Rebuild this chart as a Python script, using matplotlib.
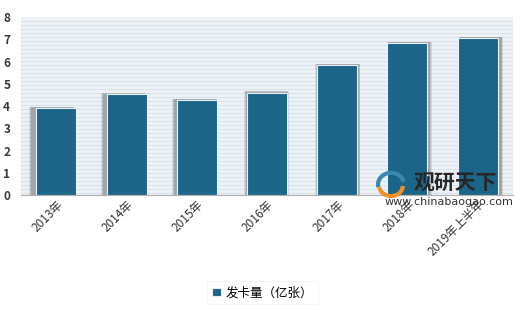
import matplotlib
matplotlib.use("Agg")
import matplotlib.pyplot as plt
import numpy as np
from matplotlib.patches import Rectangle, Arc

plt.rcParams['font.family'] = ['Noto Sans CJK SC', 'DejaVu Sans']

# Data
categories = ['2013年', '2014年', '2015年', '2016年', '2017年', '2018年', '2019年上半年']
card_issuance = [3.9, 4.52, 4.27, 4.6, 5.84, 6.82, 7.04]
series_name = '发卡量（亿张）'

bar_color = '#1b6688'
bg_color = '#eef2f6'
stripe_color = '#dbe3ea'

fig = plt.figure(figsize=(5.2, 3.1), dpi=100)
ax = fig.add_axes([0.041, 0.371, 0.945, 0.574])
ax.set_facecolor(bg_color)

# Striped background
for yy in np.arange(0.09, 8.0, 0.18):
    ax.axhline(yy, color=stripe_color, lw=0.8, zorder=0)

x = np.arange(len(categories))
width = 0.57

# Soft shadow behind each bar, pushed outward from the middle
for i, v in enumerate(card_issuance):
    off = (i - 3.5) * 0.018
    for k, a in enumerate([0.18, 0.25, 0.32]):
        grow = 0.012 * (3 - k)
        ax.add_patch(Rectangle((x[i] - width / 2 + off - grow, 0), width + 2 * grow,
                               v + 0.03 + grow, facecolor='#6f7478', alpha=a,
                               edgecolor='none', zorder=1))

bars = ax.bar(x, card_issuance, width=width, color=bar_color, edgecolor='#e8f0f5',
              linewidth=0.8, zorder=2, label=series_name)

ax.set_xlim(-0.5, len(categories) - 0.5)
ax.set_ylim(0, 8)
ax.set_yticks(range(0, 9))
ax.tick_params(axis='y', length=0, labelsize=8.5, colors='#3a3a3a', pad=8)
for t in ax.get_yticklabels():
    t.set_fontweight('bold')
ax.tick_params(axis='x', length=0, pad=2)
ax.set_xticks(x)
ax.set_xticklabels(categories, rotation=45, ha='right', rotation_mode='anchor',
                   fontsize=8.5, color='#333333')

for s in ['top', 'right', 'left']:
    ax.spines[s].set_visible(False)
ax.spines['bottom'].set_color('#b0b0b0')

# Watermark
fig.text(0.795, 0.41, '观研天下', fontsize=15, fontweight='bold', color='#262626',
         ha='left', va='center')
fig.text(0.988, 0.348, 'www.chinabaogao.com', fontsize=8, color='#333333',
         ha='right', va='center', family='DejaVu Sans')
fig.patches.append(Arc((0.752, 0.405), 0.05, 0.075, theta1=20, theta2=200,
                       transform=fig.transFigure, color='#3b87b0', lw=3))
fig.patches.append(Arc((0.752, 0.400), 0.045, 0.065, theta1=190, theta2=360,
                       transform=fig.transFigure, color='#f0902a', lw=3))

leg = fig.legend(handles=[bars], labels=[series_name], loc='center',
                 bbox_to_anchor=(0.505, 0.055), frameon=True, fontsize=9,
                 handlelength=0.7, handleheight=0.7, handletextpad=0.4,
                 borderpad=0.4)
leg.get_frame().set_edgecolor('#eeeeee')
leg.get_frame().set_linewidth(0.5)

fig.savefig('out.png', dpi=100)
